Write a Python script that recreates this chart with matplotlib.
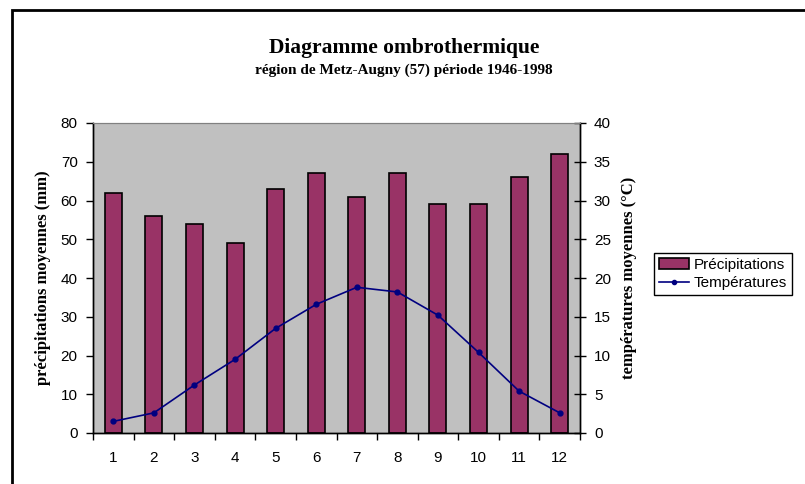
import numpy as np
import matplotlib.pyplot as plt
from matplotlib.patches import Rectangle, Patch
from matplotlib.lines import Line2D

# Données
mois = [1, 2, 3, 4, 5, 6, 7, 8, 9, 10, 11, 12]
precipitations = [62, 56, 54, 49, 63, 67, 61, 67, 59, 59, 66, 72]
temperatures = [1.5, 2.6, 6.2, 9.5, 13.5, 16.6, 18.8, 18.2, 15.2, 10.4, 5.4, 2.6]

couleur_barre = '#993366'
couleur_ligne = '#000080'
serif = ['Liberation Serif', 'DejaVu Serif']
sans = ['Liberation Sans', 'DejaVu Sans']

plt.rcParams['font.family'] = sans

fig = plt.figure(figsize=(8.05, 4.84), dpi=100)
ax = fig.add_axes([93/805, 1-433/484, (580-93)/805, (433-123)/484])
ax.set_facecolor('#C0C0C0')

x = np.array(mois)
ax.bar(x, precipitations, width=0.42, color=couleur_barre,
       edgecolor='black', linewidth=1.2, zorder=2)
ax.set_xlim(0.5, 12.5)
ax.set_ylim(0, 80)
ax.set_yticks(np.arange(0, 81, 10))
ax.set_xticks(x)
ax.set_xticklabels([str(m) for m in mois])
ax.set_xticks(np.arange(0.5, 12.6, 1), minor=True)
ax.tick_params(axis='x', which='major', length=0, pad=13, labelsize=11)
ax.tick_params(axis='x', which='minor', length=5, direction='out', width=1)
ax.tick_params(axis='y', length=5, width=1, pad=6, labelsize=11)
ax.set_ylabel('précipitations moyennes (mm)', family=serif,
              fontweight='bold', fontsize=12, labelpad=7)

ax2 = ax.twinx()
ax2.plot(x, temperatures, color=couleur_ligne, linewidth=1.2,
         marker='o', markersize=3.5, zorder=3)
ax2.set_ylim(0, 40)
ax2.set_yticks(np.arange(0, 41, 5))
ax2.tick_params(axis='y', length=8, width=1, direction='inout', pad=6,
                labelsize=11)
ax2.set_ylabel('températures moyennes (°C)', family=serif,
               fontweight='bold', fontsize=12, labelpad=7)

for a in (ax, ax2):
    a.spines['top'].set_color('#808080')
    a.spines['left'].set_linewidth(1)
    a.spines['bottom'].set_linewidth(1)
    a.spines['right'].set_linewidth(1)

fig.text(0.502, 1-53/484, 'Diagramme ombrothermique', family=serif,
         fontweight='bold', fontsize=15.5, ha='center', va='baseline')
fig.text(0.502, 1-74/484, 'région de Metz-Augny (57) période 1946-1998',
         family=serif, fontweight='bold', fontsize=11, ha='center',
         va='baseline')

handles = [Patch(facecolor=couleur_barre, edgecolor='black', linewidth=1.2),
           Line2D([], [], color=couleur_ligne, linewidth=1.2, marker='o',
                  markersize=3)]
leg = fig.legend(handles, ['Précipitations', 'Températures'],
                 loc='upper left', bbox_to_anchor=(654/805, 1-253/484),
                 bbox_transform=fig.transFigure, fontsize=11, frameon=True,
                 fancybox=False, edgecolor='black', framealpha=1,
                 borderaxespad=0, borderpad=0.3, handlelength=2.0,
                 handletextpad=0.3, labelspacing=0.3)
leg.get_frame().set_linewidth(1)

# cadre du graphique
fig.patches.append(Rectangle((12/805, -0.1), 1.0, 1-10/484+0.1,
                             transform=fig.transFigure, fill=False,
                             edgecolor='black', linewidth=2))

fig.savefig('out.png', dpi=100)
